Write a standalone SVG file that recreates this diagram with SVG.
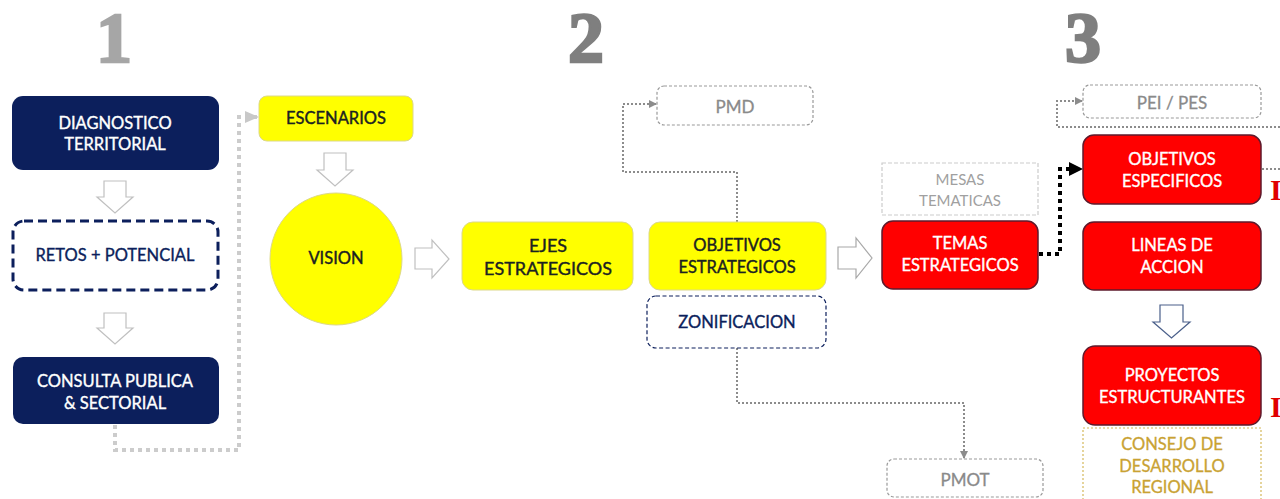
<svg xmlns="http://www.w3.org/2000/svg" width="1280" height="499" viewBox="0 0 1280 499">
<defs>
<marker id="ag" markerWidth="8" markerHeight="8" refX="7" refY="4" orient="auto" markerUnits="userSpaceOnUse"><path d="M0,0 L8,4 L0,8 Z" fill="#8c8c8c"/></marker>
<marker id="agl" markerWidth="14" markerHeight="12" refX="13" refY="6" orient="auto" markerUnits="userSpaceOnUse"><path d="M0,0 L14,6 L0,12 Z" fill="#c8c8c8"/></marker>
<marker id="ab" markerWidth="14" markerHeight="14" refX="13" refY="7" orient="auto" markerUnits="userSpaceOnUse"><path d="M0,0 L14,7 L0,14 Z" fill="#000"/></marker>
</defs>
<style>
text{font-family:"Lato","Liberation Sans",sans-serif;text-anchor:middle;dominant-baseline:central}
.num{font-family:"Liberation Serif",serif;font-weight:bold;font-size:72px;dominant-baseline:alphabetic;stroke-width:2.5}
.navy{fill:#0c1f5c}
.wt{fill:#fff;stroke:#fff;stroke-width:0.35;font-size:16.5px}
.nt{fill:#0c1f5c;stroke:#0c1f5c;stroke-width:0.35;font-size:16.5px}
.yel{fill:#ffff00;stroke:#dcd88a;stroke-width:1}
.yt{fill:#1a2222;stroke:#1a2222;stroke-width:0.4;font-size:16.5px}
.red{fill:#ff0000;stroke:#5e1a2c;stroke-width:1.5}
.gbox{fill:#fff;stroke:#9a9a9a;stroke-width:1.2;stroke-dasharray:3 2}
.gt{fill:#8a8a8a;stroke:#8a8a8a;stroke-width:0.3;font-size:17px}
.harr{fill:#fff;stroke:#c0c0c0;stroke-width:1.2}
.dotl{fill:none;stroke:#cccccc;stroke-width:4;stroke-dasharray:4 4}
.dotg{fill:none;stroke:#8c8c8c;stroke-width:2;stroke-dasharray:2 2}
.dotb{fill:none;stroke:#000;stroke-width:4;stroke-dasharray:4 4}
.ri{font-family:"Liberation Serif",serif;font-weight:bold;font-size:30px;fill:#e00000;text-anchor:start}
.ct{fill:#c9a233;stroke:#c9a233;stroke-width:0.3;font-size:16.5px}
</style>
<rect width="1280" height="499" fill="#fff"/>

<g id="numbers">
<text class="num" x="114" y="62" fill="#a6a6a6" stroke="#a6a6a6">1</text>
<text class="num" x="586" y="62" fill="#7f7f7f" stroke="#7f7f7f">2</text>
<text class="num" x="1083" y="62" fill="#7f7f7f" stroke="#7f7f7f">3</text>
</g>

<g id="connectors">
<path class="dotl" d="M115,425 V450 H239 V117 H258" marker-end="url(#agl)"/>
<path class="dotg" d="M737,222 V172 H623 V104 H656" marker-end="url(#ag)"/>
<path class="dotg" d="M737,348 V403 H964 V458" marker-end="url(#ag)"/>
<path class="dotb" d="M1039,254 H1060 V169 H1082" marker-end="url(#ab)"/>
<path class="dotg" d="M1280,127 H1057 V101 H1082" marker-end="url(#ag)"/>
<path class="dotg" d="M1262,169 H1280"/>
<polygon class="harr" points="104,181 126,181 126,197 133,197 115,213 97,197 104,197"/>
<polygon class="harr" points="104,313 126,313 126,328 133,328 115,344 97,328 104,328"/>
<polygon class="harr" points="324,153 346,153 346,170 353,170 335,186 317,170 324,170"/>
<polygon class="harr" points="415,248 432,248 432,240 449,259 432,278 432,269 415,269"/>
<polygon class="harr" points="838,247 856,247 856,238 872,258 856,278 856,269 838,269" style="stroke:#a8a8a8"/>
<polygon class="harr" points="1160,305 1183,305 1183,322 1190,322 1171.5,338 1153,322 1160,322" style="stroke:#4a5f8a"/>
</g>

<g id="diagnostico">
<rect class="navy" x="12" y="96" width="207" height="74" rx="11"/>
<text class="wt" x="115" y="123">DIAGNOSTICO</text>
<text class="wt" x="115" y="144">TERRITORIAL</text>
</g>

<g id="retos">
<rect x="13" y="221" width="205" height="69" rx="11" fill="#fff" stroke="#0c1f5c" stroke-width="3" stroke-dasharray="9 5"/>
<text class="nt" x="115" y="255">RETOS + POTENCIAL</text>
</g>

<g id="consulta">
<rect class="navy" x="13" y="357" width="206" height="67" rx="10"/>
<text class="wt" x="115" y="381">CONSULTA  PUBLICA</text>
<text class="wt" x="115" y="403">&amp; SECTORIAL</text>
</g>

<g id="escenarios">
<rect class="yel" x="259" y="96" width="154" height="45" rx="8"/>
<text class="yt" x="336" y="118">ESCENARIOS</text>
</g>

<g id="vision">
<circle class="yel" cx="336" cy="259" r="66"/>
<text class="yt" x="336" y="258">VISION</text>
</g>

<g id="ejes">
<rect class="yel" x="462" y="222" width="171" height="68" rx="11"/>
<text class="yt" x="548" y="245" style="font-size:18px">EJES</text>
<text class="yt" x="548" y="268" style="font-size:18px">ESTRATEGICOS</text>
</g>

<g id="objetivos-estrategicos">
<rect class="yel" x="649" y="222" width="177" height="68" rx="11"/>
<text class="yt" x="737" y="245">OBJETIVOS</text>
<text class="yt" x="737" y="267">ESTRATEGICOS</text>
</g>

<g id="zonificacion">
<rect x="647" y="296" width="179" height="52" rx="9" fill="#fff" stroke="#0c1f5c" stroke-width="1.2" stroke-dasharray="4 2.5"/>
<text class="nt" x="737" y="322">ZONIFICACION</text>
</g>

<g id="pmd">
<rect class="gbox" x="657" y="86" width="156" height="39" rx="7"/>
<text class="gt" x="735" y="106">PMD</text>
</g>

<g id="pmot">
<rect class="gbox" x="887" y="459" width="156" height="38" rx="7"/>
<text class="gt" x="965" y="479">PMOT</text>
</g>

<g id="mesas">
<rect x="882" y="163" width="156" height="52" fill="#fff" stroke="#cccccc" stroke-width="1.2" stroke-dasharray="4 2"/>
<text x="960" y="179" style="fill:#a0a0a0;font-size:15px">MESAS</text>
<text x="960" y="200" style="fill:#a0a0a0;font-size:15px">TEMATICAS</text>
</g>

<g id="temas">
<rect class="red" x="882" y="221" width="156" height="68" rx="11"/>
<text class="wt" x="960" y="243">TEMAS</text>
<text class="wt" x="960" y="265">ESTRATEGICOS</text>
</g>

<g id="pei">
<rect class="gbox" x="1083" y="85" width="178" height="33" rx="7"/>
<text class="gt" x="1172" y="102">PEI / PES</text>
</g>

<g id="objetivos-especificos">
<rect class="red" x="1083" y="135" width="178" height="69" rx="11"/>
<text class="wt" x="1172" y="159">OBJETIVOS</text>
<text class="wt" x="1172" y="181">ESPECIFICOS</text>
</g>

<g id="lineas">
<rect class="red" x="1083" y="222" width="178" height="68" rx="11"/>
<text class="wt" x="1172" y="245">LINEAS DE</text>
<text class="wt" x="1172" y="267">ACCION</text>
</g>

<g id="proyectos">
<rect class="red" x="1083" y="346" width="178" height="79" rx="12"/>
<text class="wt" x="1172" y="375">PROYECTOS</text>
<text class="wt" x="1172" y="397">ESTRUCTURANTES</text>
</g>

<g id="consejo">
<rect x="1083" y="428" width="178" height="80" fill="#fff" stroke="#d4b85a" stroke-width="1.2" stroke-dasharray="2 2"/>
<text class="ct" x="1172" y="444">CONSEJO DE</text>
<text class="ct" x="1172" y="466">DESARROLLO</text>
<text class="ct" x="1172" y="487">REGIONAL</text>
</g>

<g id="red-marks">
<text class="ri" x="1270" y="200" style="dominant-baseline:alphabetic">I</text>
<text class="ri" x="1270" y="417" style="dominant-baseline:alphabetic">I</text>
</g>
</svg>
